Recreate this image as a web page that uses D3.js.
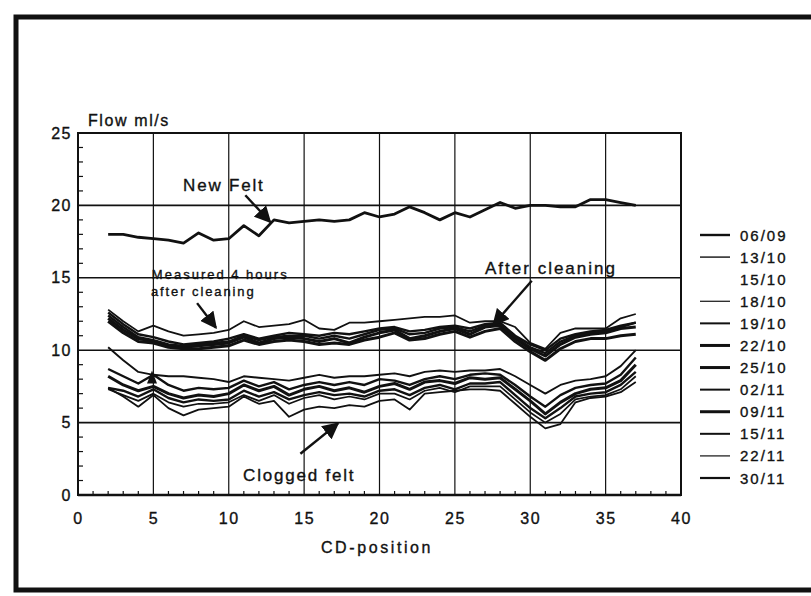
<!DOCTYPE html>
<html>
<head>
<meta charset="utf-8">
<script src="https://cdn.jsdelivr.net/npm/d3@7/dist/d3.min.js"></script>
<style>
  html, body { margin: 0; padding: 0; background: #fff; }
  svg { display: block; }
  text { font-family: "Liberation Sans", Arial, Helvetica, sans-serif; fill: #111; stroke: #111; stroke-width: 0.35px; }
</style>
</head>
<body>
<svg id="chart" width="811" height="596"></svg>
<script>
// CD positions measured across the felt
const positions = [2,3,4,5,6,7,8,9,10,11,12,13,14,15,16,17,18,19,20,21,22,23,24,25,26,27,28,29,30,31,32,33,34,35,36,37];

// Measurement dates (legend order)
const dates = ["06/09","13/10","15/10","18/10","19/10","22/10","25/10","02/11","09/11","15/11","22/11","30/11"];

// Flow (ml/s) per measurement date
const flow0609 = [18.0,18.0,17.8,17.7,17.6,17.4,18.1,17.6,17.7,18.6,17.9,19.0,18.8,18.9,19.0,18.9,19.0,19.5,19.2,19.4,19.9,19.5,19.0,19.5,19.2,19.7,20.2,19.8,20.0,20.0,19.9,19.9,20.4,20.4,20.2,20.0];
const flow1310 = [12.8,12.0,11.3,11.7,11.3,11.0,11.1,11.2,11.4,12.0,11.6,11.7,11.8,12.1,11.5,11.4,11.9,11.9,12.0,12.1,12.2,12.3,12.3,12.4,11.9,12.0,12.0,11.6,10.5,10.1,11.2,11.5,11.5,11.5,12.2,12.5];
const flow1510 = [10.2,9.3,8.5,8.3,8.2,8.2,8.1,8.0,7.8,8.2,8.1,8.0,7.9,8.1,8.3,8.1,8.2,8.2,8.3,8.4,8.2,8.5,8.6,8.5,8.6,8.6,8.7,8.2,7.6,7.0,7.6,7.9,8.0,8.2,8.9,10.0];
const flow1810 = [7.4,6.8,6.1,6.9,6.0,5.5,5.9,6.0,6.1,6.8,6.3,6.5,5.4,5.9,6.1,6.0,6.2,6.1,6.5,6.6,5.9,7.0,7.1,7.2,7.3,7.3,7.2,6.3,5.4,4.6,4.9,6.4,6.7,6.8,7.1,7.8];
const flow1910 = [12.6,11.8,11.1,10.9,10.6,10.4,10.5,10.6,10.8,11.1,10.8,11.0,11.2,11.1,11.0,11.2,11.1,11.3,11.5,11.6,11.3,11.4,11.6,11.7,11.5,11.8,11.9,11.0,10.4,10.0,10.8,11.1,11.3,11.4,11.7,11.9];
const flow2210 = [12.2,11.4,10.8,10.6,10.3,10.2,10.3,10.4,10.5,10.9,10.5,10.8,10.9,10.8,10.6,10.8,10.5,10.9,11.2,11.4,10.8,11.0,11.3,11.5,11.1,11.6,11.7,10.8,10.1,9.6,10.4,10.9,11.1,11.2,11.5,11.6];
const flow2510 = [12.0,11.2,10.6,10.5,10.2,10.1,10.1,10.2,10.3,10.7,10.4,10.6,10.7,10.6,10.4,10.5,10.4,10.7,10.9,11.2,10.7,10.8,11.1,11.3,10.9,11.3,11.5,10.6,9.9,9.3,10.1,10.6,10.8,10.8,11.0,11.1];
const flow0211 = [8.7,8.2,7.7,8.3,7.6,7.2,7.4,7.3,7.4,7.9,7.5,7.8,7.3,7.6,7.8,7.6,7.8,7.6,8.0,7.9,7.6,8.0,8.2,8.0,8.3,8.4,8.3,7.6,6.8,6.1,6.9,7.4,7.6,7.7,8.3,9.5];
const flow0911 = [8.2,7.6,7.2,7.5,7.0,6.7,6.9,6.8,7.0,7.6,7.2,7.5,6.9,7.3,7.5,7.2,7.4,7.1,7.5,7.7,7.3,7.8,7.9,7.7,8.1,8.0,8.1,7.3,6.5,5.6,6.4,7.0,7.3,7.4,7.9,9.0];
const flow1511 = [12.4,11.6,10.9,10.7,10.4,10.3,10.4,10.5,10.6,11.0,10.7,10.9,11.0,11.0,10.8,11.0,10.8,11.1,11.4,11.5,11.1,11.2,11.5,11.6,11.3,11.7,11.8,10.9,10.2,9.8,10.6,11.0,11.2,11.3,11.6,11.9];
const flow2211 = [7.3,6.9,6.5,7.0,6.4,6.1,6.3,6.3,6.4,6.9,6.5,6.9,6.3,6.7,6.9,6.6,6.8,6.6,7.0,7.0,6.6,7.2,7.4,7.1,7.5,7.5,7.5,6.6,5.7,5.0,5.6,6.6,6.8,6.9,7.3,8.2];
const flow3011 = [7.4,7.2,6.8,7.3,6.7,6.4,6.6,6.5,6.6,7.2,6.8,7.1,6.6,6.9,7.1,6.9,7.0,6.8,7.2,7.3,6.9,7.4,7.6,7.3,7.7,7.7,7.8,6.9,6.0,5.3,6.0,6.8,7.0,7.1,7.6,8.5];

const flowByDate = [flow0609, flow1310, flow1510, flow1810, flow1910, flow2210, flow2510, flow0211, flow0911, flow1511, flow2211, flow3011];

// Axis ticks
const xTicks = [0,5,10,15,20,25,30,35,40];
const yTicks = [0,5,10,15,20,25];

// Line weight per date; the 15/10 trace has no sample drawn in the key
const lineWidth = {"06/09":2.8,"13/10":1.8,"15/10":1.9,"18/10":1.8,"19/10":2.4,"22/10":3.0,"25/10":3.0,"02/11":2.4,"09/11":3.0,"15/11":2.4,"22/11":1.7,"30/11":2.4};
const keyWidth = {"06/09":2.4,"13/10":1.4,"15/10":0,"18/10":1.2,"19/10":2.0,"22/10":3.0,"25/10":3.0,"02/11":2.0,"09/11":3.0,"15/11":2.0,"22/11":1.2,"30/11":2.2};

const svg = d3.select("#chart");
const ink = "#111";

// Outer frame
svg.append("path")
  .attr("d", "M811,17 H16 V590 H811")
  .attr("fill", "none").attr("stroke", ink).attr("stroke-width", 5);

const x = d3.scaleLinear().domain([0, 40]).range([78, 681]);
const y = d3.scaleLinear().domain([0, 25]).range([495, 133]);

const plot = svg.append("g");

// Grid lines
plot.selectAll("line.vgrid").data(xTicks.slice(1, -1)).join("line")
  .attr("x1", d => x(d)).attr("x2", d => x(d))
  .attr("y1", y(25)).attr("y2", y(0))
  .attr("stroke", ink).attr("stroke-width", 1.2);
plot.selectAll("line.hgrid").data(yTicks.slice(1, -1)).join("line")
  .attr("x1", x(0)).attr("x2", x(40))
  .attr("y1", d => y(d)).attr("y2", d => y(d))
  .attr("stroke", ink).attr("stroke-width", 1.6);

// Minor ticks (inside)
plot.selectAll("line.xminor").data(d3.range(1, 40).filter(d => d % 5 !== 0)).join("line")
  .attr("x1", d => x(d)).attr("x2", d => x(d))
  .attr("y1", y(0)).attr("y2", y(0) - 4)
  .attr("stroke", ink).attr("stroke-width", 1.2);
plot.selectAll("line.yminor").data(d3.range(1, 25).filter(d => d % 5 !== 0)).join("line")
  .attr("x1", x(0)).attr("x2", x(0) + 5)
  .attr("y1", d => y(d)).attr("y2", d => y(d))
  .attr("stroke", ink).attr("stroke-width", 1.2);

// Plot box
plot.append("rect")
  .attr("x", x(0)).attr("y", y(25))
  .attr("width", x(40) - x(0)).attr("height", y(0) - y(25))
  .attr("fill", "none").attr("stroke", ink).attr("stroke-width", 2);
plot.append("line")
  .attr("x1", x(0)).attr("x2", x(40)).attr("y1", y(0)).attr("y2", y(0))
  .attr("stroke", ink).attr("stroke-width", 2.6);

// Axes (labels only)
const xAxis = svg.append("g").attr("transform", `translate(0,${y(0)})`)
  .call(d3.axisBottom(x).tickValues(xTicks).tickSize(0).tickPadding(18).tickFormat(d3.format("d")));
const yAxis = svg.append("g").attr("transform", `translate(${x(0) - 6},0)`)
  .call(d3.axisLeft(y).tickValues(yTicks).tickSize(0).tickPadding(0).tickFormat(d3.format("d")));
[xAxis, yAxis].forEach(a => {
  a.select(".domain").remove();
  a.selectAll("text")
    .attr("fill", ink)
    .style("font-family", "'Liberation Sans', Arial, sans-serif")
    .style("font-size", "16px")
    .style("letter-spacing", "1.5px");
});

svg.append("text").attr("x", 88).attr("y", 126)
  .style("font-size", "16px").style("letter-spacing", "1.6px").text("Flow ml/s");
svg.append("text").attr("x", 377).attr("y", 553).attr("text-anchor", "middle")
  .style("font-size", "16px").style("letter-spacing", "2.6px").text("CD-position");

// Data lines
const line = d3.line().x((d, i) => x(positions[i])).y(d => y(d));
plot.selectAll("path.series").data(dates).join("path")
  .attr("class", "series")
  .attr("d", (d, i) => line(flowByDate[i]))
  .attr("fill", "none").attr("stroke", ink)
  .attr("stroke-width", d => lineWidth[d])
  .attr("stroke-linejoin", "round");

// Annotations
const ann = svg.append("g");
ann.append("defs").append("marker")
  .attr("id", "head").attr("viewBox", "0 0 10 10")
  .attr("refX", 9).attr("refY", 5)
  .attr("markerWidth", 7).attr("markerHeight", 7)
  .attr("markerUnits", "strokeWidth")
  .attr("orient", "auto")
  .append("path").attr("d", "M0,0 L10,5 L0,10 Z").attr("fill", ink);

function arrow(x1, y1, x2, y2) {
  ann.append("line")
    .attr("x1", x(x1)).attr("y1", y(y1)).attr("x2", x(x2)).attr("y2", y(y2))
    .attr("stroke", ink).attr("stroke-width", 2.4)
    .attr("marker-end", "url(#head)");
}
function label(t, vx, vy, size, spacing) {
  ann.append("text").attr("x", x(vx)).attr("y", y(vy))
    .style("font-size", size + "px").style("letter-spacing", spacing + "px").text(t);
}

label("New Felt", 6.97, 21.0, 17, 1.8);
arrow(11.1, 20.7, 12.75, 18.85);

label("Measured 4 hours", 4.9, 14.92, 13, 2);
label("after cleaning", 4.84, 13.74, 13, 1.9);
arrow(7.9, 13.25, 9.15, 11.55);

label("After cleaning", 27.0, 15.26, 17, 2.0);
arrow(30.1, 14.8, 27.55, 11.75);

label("Clogged felt", 10.95, 0.97, 17, 1.8);
arrow(14.75, 2.85, 17.25, 4.95);

// small pointer at CD 5 within the lower band
ann.append("path")
  .attr("d", `M${x(4.91)},${y(8.6)} L${x(4.91) - 5},${y(7.7)} L${x(4.91) + 5},${y(7.7)} Z`)
  .attr("fill", ink);

// Legend
const legend = svg.append("g");
const rowY = d3.scalePoint().domain(dates).range([235, 478]);
dates.forEach(d => {
  const g = legend.append("g").attr("transform", `translate(0,${rowY(d)})`);
  if (keyWidth[d] > 0) {
    g.append("line").attr("x1", 700).attr("x2", 730).attr("y1", 0).attr("y2", 0)
      .attr("stroke", ink).attr("stroke-width", keyWidth[d]);
  }
  g.append("text").attr("x", 740).attr("y", 5.5)
    .style("font-size", "15px").style("letter-spacing", "2px").text(d);
});
</script>
</body>
</html>
